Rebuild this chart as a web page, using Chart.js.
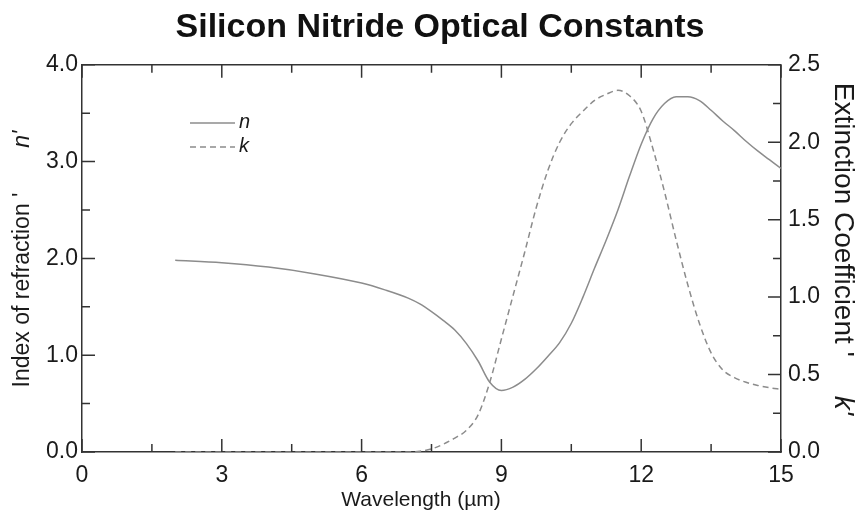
<!DOCTYPE html>
<html>
<head>
<meta charset="utf-8">
<script src="https://cdn.jsdelivr.net/npm/chart.js@4/dist/chart.umd.min.js"></script>
<style>
  html, body { margin: 0; padding: 0; background: #fff; }
  #wrap { width: 856px; height: 521px; }
</style>
</head>
<body>
<div id="wrap"><canvas id="chart"></canvas></div>
<script>
// wavelength in micrometres
const wavelength = [2, 3, 4, 5, 6, 6.5, 7, 7.25, 7.5, 7.75, 8, 8.25, 8.5, 8.75, 9,
    9.25, 9.5, 9.75, 10, 10.25, 10.5, 10.75, 11, 11.25, 11.5, 11.75, 12,
    12.25, 12.5, 12.75, 13, 13.25, 13.5, 13.75, 14, 14.25, 14.5, 14.75, 15];

// index of refraction n
const nValues = [1.98, 1.955, 1.91, 1.84, 1.745, 1.675, 1.59, 1.53, 1.45, 1.36, 1.26, 1.12, 0.94, 0.72, 0.635,
    0.67, 0.75, 0.86, 0.99, 1.13, 1.33, 1.60, 1.90, 2.19, 2.50, 2.85, 3.18,
    3.44, 3.60, 3.67, 3.67, 3.63, 3.53, 3.42, 3.32, 3.21, 3.11, 3.02, 2.93];

// extinction coefficient k
const kValues = [0, 0, 0, 0, 0, 0, 0, 0.005, 0.02, 0.05, 0.09, 0.14, 0.24, 0.45, 0.73,
    1.01, 1.29, 1.58, 1.82, 2.00, 2.12, 2.20, 2.27, 2.31, 2.335, 2.30, 2.20,
    1.96, 1.68, 1.37, 1.08, 0.83, 0.64, 0.53, 0.48, 0.45, 0.43, 0.415, 0.405];

const xTicks = [0, 3, 6, 9, 12, 15];
const nTicks = [0, 1, 2, 3, 4];
const kTicks = [0, 0.5, 1, 1.5, 2, 2.5];

const FONT = "'Liberation Sans', Arial, sans-serif";
const LINE = "#8c8c8c";
const AXIS = "#333";

function pts(ys) {
    return wavelength.map((x, i) => ({ x, y: ys[i] }));
}

// inward ticks on all four sides + top frame line
const frame = {
    id: "frame",
    afterDraw(chart) {
        const { ctx, chartArea: a, scales } = chart;
        ctx.save();
        ctx.strokeStyle = AXIS;
        ctx.lineWidth = 1.5;
        ctx.beginPath();
        ctx.moveTo(a.left, a.top);
        ctx.lineTo(a.right, a.top);
        ctx.stroke();

        ctx.beginPath();
        for (let v = 0; v <= 15.001; v += 1.5) {
            const px = scales.x.getPixelForValue(v);
            const len = Math.abs(v % 3) < 0.01 ? 13 : 8;
            ctx.moveTo(px, a.bottom); ctx.lineTo(px, a.bottom - len);
            ctx.moveTo(px, a.top); ctx.lineTo(px, a.top + len);
        }
        for (let v = 0; v <= 4.001; v += 0.5) {
            const py = scales.y.getPixelForValue(v);
            const len = Math.abs(v % 1) < 0.01 ? 13 : 8;
            ctx.moveTo(a.left, py); ctx.lineTo(a.left + len, py);
        }
        for (let v = 0; v <= 2.501; v += 0.25) {
            const py = scales.y2.getPixelForValue(v);
            const len = Math.abs(v % 0.5) < 0.01 ? 13 : 8;
            ctx.moveTo(a.right, py); ctx.lineTo(a.right - len, py);
        }
        ctx.stroke();
        ctx.restore();
    }
};

function drawParts(ctx, parts, size) {
    let total = 0;
    parts.forEach(p => {
        ctx.font = `${p[1] ? "italic " : ""}${size}px ${FONT}`;
        p.w = ctx.measureText(p[0]).width;
        total += p.w;
    });
    let x = -total / 2;
    parts.forEach(p => {
        ctx.font = `${p[1] ? "italic " : ""}${size}px ${FONT}`;
        ctx.fillText(p[0], x, 0);
        x += p.w;
    });
}

// axis titles and the little legend
const labels = {
    id: "labels",
    afterDraw(chart) {
        const { ctx } = chart;
        ctx.save();
        ctx.fillStyle = "#1a1a1a";
        ctx.textBaseline = "middle";
        ctx.textAlign = "left";

        ctx.save();
        ctx.translate(23, 259);
        ctx.rotate(-Math.PI / 2);
        drawParts(ctx, [["Index of refraction '", false], ["       ", false], ["n'", true]], 23);
        ctx.restore();

        ctx.save();
        ctx.translate(843, 249);
        ctx.rotate(Math.PI / 2);
        drawParts(ctx, [["Extinction Coefficient '", false], ["     ", false], ["k'", true]], 28);
        ctx.restore();

        ctx.save();
        ctx.translate(421, 500);
        drawParts(ctx, [["Wavelength (\u00b5m)", false]], 21);
        ctx.restore();

        // legend
        chart.data.datasets.forEach((ds, i) => {
            const y = 123 + i * 24;
            ctx.save();
            ctx.strokeStyle = ds.borderColor;
            ctx.lineWidth = ds.borderWidth;
            ctx.setLineDash(ds.borderDash || []);
            ctx.beginPath();
            ctx.moveTo(190, y);
            ctx.lineTo(235, y);
            ctx.stroke();
            ctx.restore();
            ctx.font = `italic 20px ${FONT}`;
            ctx.fillText(ds.label, 239, y - 1);
        });
        ctx.restore();
    }
};

new Chart(document.getElementById("chart"), {
    type: "line",
    data: {
        datasets: [{
            label: "n",
            data: pts(nValues),
            yAxisID: "y",
            borderColor: LINE,
            borderWidth: 1.5,
            pointRadius: 0,
            cubicInterpolationMode: "monotone",
            fill: false
        }, {
            label: "k",
            data: pts(kValues),
            yAxisID: "y2",
            borderColor: LINE,
            borderWidth: 1.5,
            borderDash: [6, 4],
            pointRadius: 0,
            cubicInterpolationMode: "monotone",
            fill: false
        }]
    },
    options: {
        responsive: true,
        maintainAspectRatio: false,
        animation: false,
        layout: { padding: { left: 24, right: 0, top: 0, bottom: 0 } },
        plugins: {
            legend: { display: false },
            tooltip: { enabled: false },
            title: {
                display: true,
                text: "Silicon Nitride Optical Constants",
                color: "#111",
                font: { family: FONT, size: 34, weight: "bold" },
                padding: { top: 7, bottom: 17 }
            }
        },
        scales: {
            x: {
                type: "linear",
                position: "bottom",
                min: 0, max: 15,
                afterBuildTicks: s => { s.ticks = xTicks.map(value => ({ value })); },
                afterFit: s => { s.height = 69; },
                ticks: { color: "#1a1a1a", font: { family: FONT, size: 23 }, padding: 10, maxRotation: 0 },
                grid: { drawOnChartArea: false, drawTicks: false },
                border: { color: AXIS, width: 1.5 }
            },
            y: {
                position: "left",
                min: 0, max: 4,
                afterBuildTicks: s => { s.ticks = nTicks.map(value => ({ value })); },
                afterFit: s => { s.width = 58; },
                ticks: { color: "#1a1a1a", font: { family: FONT, size: 23 }, padding: 4,
                    callback: v => v.toFixed(1) },
                grid: { drawOnChartArea: false, drawTicks: false },
                border: { color: AXIS, width: 1.5 }
            },
            y2: {
                position: "right",
                min: 0, max: 2.5,
                afterBuildTicks: s => { s.ticks = kTicks.map(value => ({ value })); },
                afterFit: s => { s.width = 75; },
                ticks: { color: "#1a1a1a", font: { family: FONT, size: 23 }, padding: 7,
                    callback: v => v.toFixed(1) },
                grid: { drawOnChartArea: false, drawTicks: false },
                border: { color: AXIS, width: 1.5 }
            }
        }
    },
    plugins: [frame, labels]
});
</script>
</body>
</html>
